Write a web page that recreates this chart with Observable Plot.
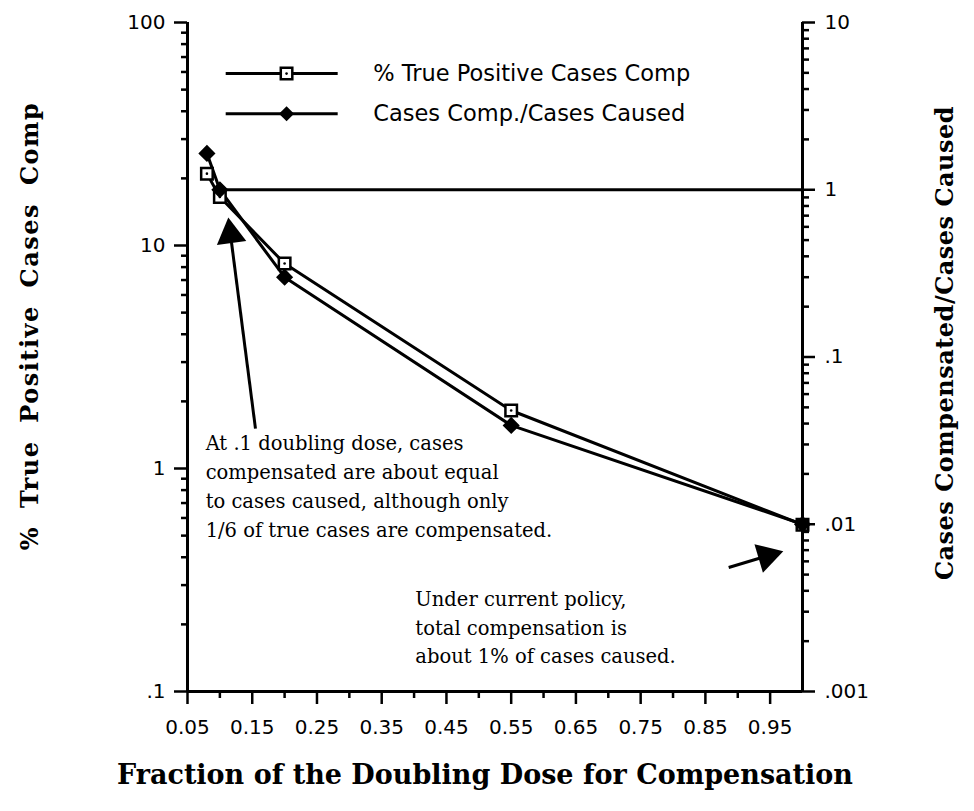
<!DOCTYPE html>
<html><head><meta charset="utf-8">
<script src="https://cdn.jsdelivr.net/npm/d3@7"></script>
<script src="https://cdn.jsdelivr.net/npm/@observablehq/plot@0.6"></script>
<style>body{margin:0;background:#fff;} #chart svg{display:block;}</style>
</head><body><div id="chart"></div>
<script>
// ---- data ----
const fraction = [0.08, 0.1, 0.2, 0.55, 1.0];
const pctTruePositive = [21, 16.5, 8.3, 1.82, 0.56];      // left axis (%)
const compRatio = [1.65, 1.0, 0.30, 0.039, 0.0100];       // right axis (ratio)
const seriesNames = ["% True Positive Cases Comp", "Cases Comp./Cases Caused"];
const referenceRatio = 1;
const referenceFrom = 0.1;

const xTickValues = [0.05, 0.15, 0.25, 0.35, 0.45, 0.55, 0.65, 0.75, 0.85, 0.95];
const xTickLabels = ["0.05", "0.15", "0.25", "0.35", "0.45", "0.55", "0.65", "0.75", "0.85", "0.95"];
const xMinorTicks = [0.1, 0.2, 0.3, 0.4, 0.5, 0.6, 0.7, 0.8, 0.9];
const leftTicks = [0.1, 1, 10, 100];
const leftTickLabels = [".1", "1", "10", "100"];
const rightTicks = [0.001, 0.01, 0.1, 1, 10];
const rightTickLabels = [".001", ".01", ".1", "1", "10"];

const xTitle = "Fraction of the Doubling Dose for Compensation";
const yLeftTitle = "% True Positive Cases Comp";
const yRightTitle = "Cases Compensated/Cases Caused";

const note1 = "At .1 doubling dose, cases\ncompensated are about equal\nto cases caused, although only\n1/6 of true cases are compensated.";
const note2 = "Under current policy,\ntotal compensation is\nabout 1% of cases caused.";
const noteX = [0.078, 0.402];
const noteY = [0.85, 0.198];
// arrows: tail and head (left-axis units)
const arrowTailX = [0.155, 0.886];
const arrowTailY = [1.51, 0.36];
const arrowHeadX = [0.1164, 0.945];
const arrowHeadY = [11.2, 0.405];
// legend anchor (data units)
const legendX1 = 0.109, legendX2 = 0.282, legendMarkX = 0.203, legendTextX = 0.337;
const legendY = [59, 39];

// ---- helpers ----
// right axis (0.001..10, 4 decades) shares the frame with the left axis (0.1..100, 3 decades)
const toLeft = v => Math.pow(10, (Math.log10(v) + 3) * 0.75 - 1);
const decadesMinor = (lo, hi) => {
  const out = [];
  for (let e = Math.round(Math.log10(lo)); e < Math.round(Math.log10(hi)); e++) for (let k = 2; k <= 9; k++) out.push(k * Math.pow(10, e));
  return out;
};
const leftMinor = decadesMinor(0.1, 100);
const rightMinor = decadesMinor(0.001, 10).map(toLeft);
const rightMajor = rightTicks.map(toLeft);
const rightLabels = rightMajor.map((y, i) => ({y, label: rightTickLabels[i]}));
const leftLabels = leftTicks.map((y, i) => ({y, label: leftTickLabels[i]}));
const xLabelMap = new Map(xTickValues.map((v, i) => [v, xTickLabels[i]]));

const pts = fraction.map((x, i) => ({x, pct: pctTruePositive[i], ratio: toLeft(compRatio[i])}));
const X = d3.scaleLinear([0.05, 1], [187, 802]), Y = d3.scaleLog([0.1, 100], [691, 22]);
const arrows = arrowTailX.map((x, i) => {
  const dx = X(arrowHeadX[i]) - X(x), dy = Y(arrowHeadY[i]) - Y(arrowTailY[i]);
  return {x1: x, y1: arrowTailY[i], x2: arrowHeadX[i], y2: arrowHeadY[i], angle: Math.atan2(dx, -dy) * 180 / Math.PI};
});
const legend = seriesNames.map((name, i) => ({name, y: legendY[i], i}));
const tickLen = 13 / 615 * 0.95; // major tick length in x units

const sans = "DejaVu Sans, sans-serif";
const serif = "DejaVu Serif, serif";

const plot = Plot.plot({
  width: 974, height: 811,
  marginLeft: 187, marginRight: 172, marginTop: 22, marginBottom: 120,
  style: {background: "white", color: "black", fontFamily: sans, overflow: "visible"},
  x: {domain: [0.05, 1.0]},
  y: {type: "log", domain: [0.1, 100]},
  marks: [
    // axes
    Plot.axisX({ticks: xTickValues, tickSize: 13, tickPadding: 15, tickFormat: d => xLabelMap.get(d), strokeWidth: 2.5, fontSize: 20, label: null}),
    Plot.axisX({ticks: xMinorTicks, tickSize: 7, tickFormat: () => "", strokeWidth: 2.5, label: null}),
    Plot.axisY({ticks: leftMinor, tickSize: 6, tickFormat: () => "", strokeWidth: 2.5, label: null}),
    Plot.axisY({anchor: "right", ticks: rightMinor, tickSize: 6, tickFormat: () => "", strokeWidth: 2.5, label: null}),
    Plot.ruleY(leftTicks, {x1: 0.05 - tickLen, x2: 0.05, stroke: "black", strokeWidth: 2.5}),
    Plot.ruleY(rightMajor, {x1: 1.0, x2: 1.0 + tickLen, stroke: "black", strokeWidth: 2.5}),
    Plot.text(leftLabels, {x: 0.05, y: "y", text: "label", dx: -22, textAnchor: "end", fontSize: 20, fontFamily: sans, fill: "black"}),
    Plot.text(rightLabels, {x: 1.0, y: "y", text: "label", dx: 22, textAnchor: "start", fontSize: 20, fontFamily: sans, fill: "black"}),
    Plot.ruleX([0.05, 1.0], {stroke: "black", strokeWidth: 3}),
    Plot.ruleY([0.1], {stroke: "black", strokeWidth: 3}),
    // reference line ratio = 1
    Plot.ruleY([toLeft(referenceRatio)], {x1: referenceFrom, x2: 1.0, stroke: "black", strokeWidth: 3}),
    // series
    Plot.line(pts, {x: "x", y: "pct", stroke: "black", strokeWidth: 3}),
    Plot.line(pts, {x: "x", y: "ratio", stroke: "black", strokeWidth: 3}),
    Plot.dot(pts, {x: "x", y: "pct", symbol: "square", r: 6.5, fill: "white", stroke: "black", strokeWidth: 2.5}),
    Plot.dot(pts, {x: "x", y: "pct", r: 1.3, fill: "black"}),
    Plot.dot(pts, {x: "x", y: "ratio", symbol: "square", rotate: 45, r: 6, fill: "black", stroke: "black"}),
    // legend
    Plot.link(legend, {x1: legendX1, x2: legendX2, y1: "y", y2: "y", stroke: "black", strokeWidth: 3}),
    Plot.dot(legend.filter(d => d.i === 0), {x: legendMarkX, y: "y", symbol: "square", r: 6.5, fill: "white", stroke: "black", strokeWidth: 2.5}),
    Plot.dot(legend.filter(d => d.i === 0), {x: legendMarkX, y: "y", r: 1.3, fill: "black"}),
    Plot.dot(legend.filter(d => d.i === 1), {x: legendMarkX, y: "y", symbol: "square", rotate: 45, r: 6, fill: "black"}),
    Plot.text(legend, {x: legendTextX, y: "y", text: "name", textAnchor: "start", fontSize: 22.5, fontFamily: sans, fill: "black"}),
    // annotations
    Plot.text([note1, note2], {x: (d, i) => noteX[i], y: (d, i) => noteY[i], text: d => d, textAnchor: "start", lineAnchor: "middle", lineHeight: 1.48, fontSize: 19.5, fontFamily: serif, fill: "black"}),
    Plot.link(arrows, {x1: "x1", y1: "y1", x2: "x2", y2: "y2", stroke: "black", strokeWidth: 3}),
    Plot.dot(arrows, {x: "x2", y: "y2", symbol: "triangle", rotate: "angle", r: 11, fill: "black"}),
    // axis titles
    Plot.text([xTitle], {frameAnchor: "bottom", textAnchor: "middle", dx: -10, dy: 92, fontSize: 27, fontWeight: "bold", fontFamily: serif, fill: "black"}),
    Plot.text([yLeftTitle], {frameAnchor: "left", textAnchor: "middle", dx: -157, dy: -31, rotate: -90, fontSize: 24, fontWeight: "bold", fontFamily: serif, fill: "black"}),
    Plot.text([yRightTitle], {frameAnchor: "right", textAnchor: "middle", dx: 143, dy: -14, rotate: -90, fontSize: 24, fontWeight: "bold", fontFamily: serif, fill: "black"})
  ]
});
document.getElementById("chart").appendChild(plot);
// spacing tweaks for the wide, scanned-looking axis titles (rotated bold texts only)
d3.select(plot).selectAll("g[aria-label='text']").each(function() {
  const g = d3.select(this);
  if (g.attr("font-weight") !== "bold") return;
  g.selectAll("text").each(function() {
    const t = this.textContent;
    if (t === yLeftTitle) d3.select(this).style("letter-spacing", "1.5px").style("word-spacing", "8px");
    if (t === yRightTitle) d3.select(this).style("letter-spacing", "0.5px");
  });
});
</script>
</body></html>
